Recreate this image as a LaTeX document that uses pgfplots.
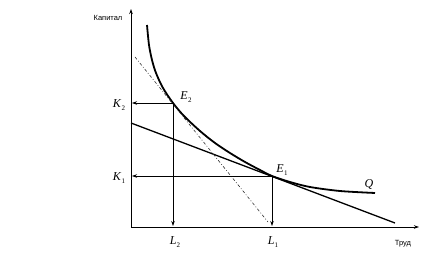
\documentclass[border=0pt]{standalone}
\usepackage{pgfplots}
\pgfplotsset{compat=1.18}
\usepackage{fontspec}
\setmainfont{Liberation Serif}
\newfontfamily\sans{Liberation Sans}
\usetikzlibrary{arrows.meta}
\newcommand\lab[2]{\textit{#1}\kern0.3pt\raisebox{-0.45ex}{\fontsize{7}{8}\selectfont #2}}
\begin{document}
\begin{tikzpicture}
\begin{axis}[
  width=448pt, height=254pt, scale only axis, hide axis,
  xmin=0, xmax=448, ymin=0, ymax=254, y dir=reverse, clip=false]
\addplot[draw=none] coordinates {(0,0) (448,254)};
% axes
\addplot[black, line width=0.9pt, -{Stealth[length=5pt,width=3.5pt]}] coordinates {(131,227) (131,9)};
\addplot[black, line width=0.9pt, -{Stealth[length=5pt,width=3.5pt]}] coordinates {(131,227) (419,227)};
% isoquant Q
\addplot[black, line width=1.8pt, smooth, tension=0.5] coordinates {
 (147,25) (149,45) (152,60) (156,73) (163,88) (173,103) (184,116) (200,131)
 (215,143) (230,153) (245,162) (260,170) (272,176) (290,182) (310,187)
 (340,191) (375,193)};
% isocost lines
\addplot[black, line width=1.3pt] coordinates {(131,123) (395,223)};
\addplot[black!80, line width=0.6pt, dash pattern=on 3pt off 2pt on 0.8pt off 2pt] coordinates {(135,57) (268,222)};
% projections
\addplot[black, line width=0.6pt, -{Stealth[length=5pt,width=3.5pt]}] coordinates {(173,103) (132,103)};
\addplot[black, line width=0.6pt, -{Stealth[length=5pt,width=3.5pt]}] coordinates {(272,176) (132,176)};
\addplot[black, line width=0.6pt, -{Stealth[length=5pt,width=3.5pt]}] coordinates {(173,103) (173,226)};
\addplot[black, line width=0.6pt, -{Stealth[length=5pt,width=3.5pt]}] coordinates {(272,176) (272,226)};
% labels
\node[font=\sans\fontsize{7.5}{9}\selectfont] at (axis cs:108,18) {Капитал};
\node[font=\sans\fontsize{7.5}{9}\selectfont] at (axis cs:403,244) {Труд};
\node[font=\fontsize{12}{14}\selectfont] at (axis cs:119,105) {\lab{K}{2}};
\node[font=\fontsize{12}{14}\selectfont] at (axis cs:119,178) {\lab{K}{1}};
\node[font=\fontsize{12}{14}\selectfont] at (axis cs:175,242) {\lab{L}{2}};
\node[font=\fontsize{12}{14}\selectfont] at (axis cs:273,242) {\lab{L}{1}};
\node[font=\fontsize{12}{14}\selectfont] at (axis cs:186,97) {\lab{E}{2}};
\node[font=\fontsize{12}{14}\selectfont] at (axis cs:282,170) {\lab{E}{1}};
\node[font=\fontsize{12}{14}\selectfont] at (axis cs:369,185) {\textit{Q}};
\end{axis}
\end{tikzpicture}
\end{document}
